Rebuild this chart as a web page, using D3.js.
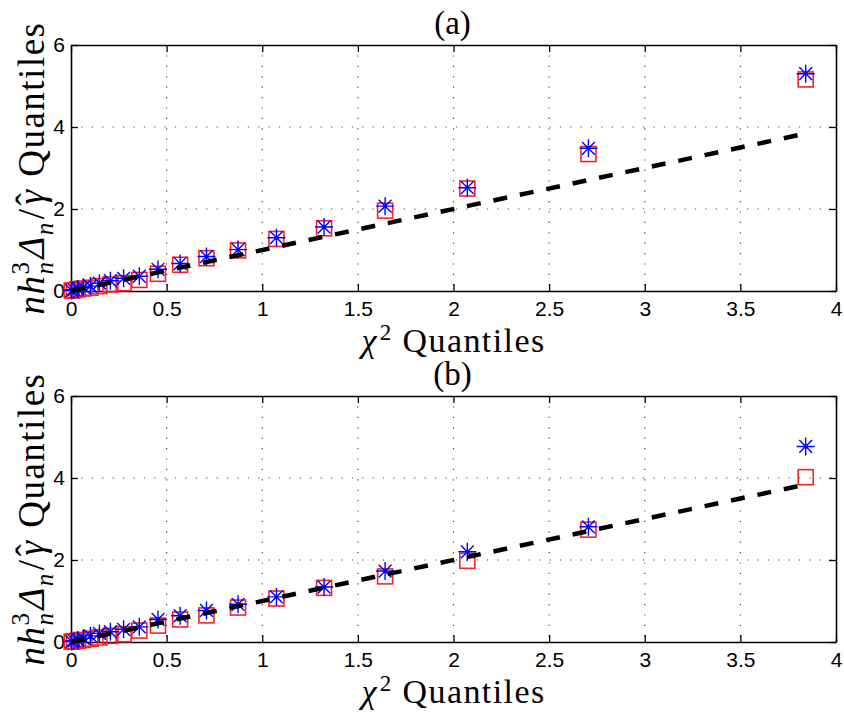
<!DOCTYPE html>
<html>
<head>
<meta charset="utf-8">
<script src="https://cdn.jsdelivr.net/npm/d3@7"></script>
<style>
  html, body { margin: 0; padding: 0; background: #fff; }
  svg { display: block; }
</style>
</head>
<body>
<div id="chart"></div>
<script>
// ---- data ----
const chi2Quantiles = [0.0039, 0.0158, 0.0358, 0.0642, 0.1015, 0.1485, 0.2059, 0.2750, 0.3573, 0.4549, 0.5707, 0.7083, 0.8735, 1.0742, 1.3233, 1.6424, 2.0723, 2.7055, 3.8415];
const squaresA = [0.01, 0.02, 0.04, 0.06, 0.08, 0.12, 0.16, 0.19, 0.27, 0.42, 0.64, 0.80, 0.99, 1.27, 1.53, 1.96, 2.50, 3.34, 5.16];
const starsA   = [0.01, 0.03, 0.05, 0.09, 0.12, 0.19, 0.25, 0.31, 0.36, 0.53, 0.67, 0.84, 1.01, 1.30, 1.56, 2.07, 2.52, 3.48, 5.30];
const squaresB = [0.01, 0.02, 0.03, 0.05, 0.08, 0.11, 0.15, 0.19, 0.28, 0.40, 0.55, 0.65, 0.84, 1.06, 1.32, 1.60, 1.98, 2.74, 4.02];
const starsB   = [0.01, 0.03, 0.05, 0.09, 0.15, 0.21, 0.25, 0.31, 0.37, 0.55, 0.64, 0.77, 0.92, 1.10, 1.34, 1.73, 2.20, 2.81, 4.77];
const refLineX = [0, 3.8415];
const refLineY = [0, 3.8415];
const xTicks = [0, 0.5, 1, 1.5, 2, 2.5, 3, 3.5, 4];
const yTicks = [0, 2, 4, 6];
const panelTitles = ["(a)", "(b)"];

// ---- layout ----
const W = 844, H = 715;
const left = 71, right = 836, plotH = 246;
const panelTops = [45, 396];

const svg = d3.select("#chart").append("svg").attr("width", W).attr("height", H);

const serif = "'Liberation Serif', 'Times New Roman', serif";
const sans = "'Liberation Sans', Arial, Helvetica, sans-serif";

const panels = [
  { top: panelTops[0], title: panelTitles[0], sq: squaresA, st: starsA },
  { top: panelTops[1], title: panelTitles[1], sq: squaresB, st: starsB }
];

function starPath(r, d) {
  return `M${-r},0L${r},0M0,${-r}L0,${r}M${-d},${-d}L${d},${d}M${-d},${d}L${d},${-d}`;
}

panels.forEach(p => {
  const bottom = p.top + plotH;
  const x = d3.scaleLinear().domain([0, 4]).range([left, right]);
  const y = d3.scaleLinear().domain([0, 6]).range([bottom, p.top]);
  const g = svg.append("g");

  // dotted grid
  g.append("g").selectAll("line").data(xTicks.slice(1, -1)).join("line")
    .attr("x1", d => x(d)).attr("x2", d => x(d))
    .attr("y1", p.top).attr("y2", bottom)
    .attr("stroke", "#444").attr("stroke-width", 1.2)
    .attr("stroke-dasharray", "1.2,9.2");
  g.append("g").selectAll("line").data(yTicks.slice(1, -1)).join("line")
    .attr("y1", d => y(d)).attr("y2", d => y(d))
    .attr("x1", left).attr("x2", right)
    .attr("stroke", "#444").attr("stroke-width", 1.2)
    .attr("stroke-dasharray", "1.2,9.2");

  // axes (box with inward ticks)
  const styleAxis = sel => {
    sel.select(".domain").attr("stroke", "#000").attr("stroke-width", 1.6);
    sel.selectAll(".tick line").attr("stroke", "#000").attr("stroke-width", 1.3);
    sel.selectAll("text").attr("font-family", sans).attr("font-size", 21).attr("fill", "#000");
  };
  g.append("g").attr("transform", `translate(0,${bottom})`)
    .call(d3.axisBottom(x).tickValues(xTicks).tickSize(-7).tickSizeOuter(0).tickPadding(10).tickFormat(d => String(d)))
    .call(styleAxis);
  g.append("g").attr("transform", `translate(0,${p.top})`)
    .call(d3.axisTop(x).tickValues(xTicks).tickSize(-7).tickSizeOuter(0).tickFormat(""))
    .call(styleAxis);
  g.append("g").attr("transform", `translate(${left},0)`)
    .call(d3.axisLeft(y).tickValues(yTicks).tickSize(-7).tickSizeOuter(0).tickPadding(6).tickFormat(d => String(d)))
    .call(styleAxis);
  g.append("g").attr("transform", `translate(${right},0)`)
    .call(d3.axisRight(y).tickValues(yTicks).tickSize(-7).tickSizeOuter(0).tickFormat(""))
    .call(styleAxis);

  // red squares
  const s = 15;
  g.append("g").selectAll("rect").data(chi2Quantiles.map((q, i) => [q, p.sq[i]])).join("rect")
    .attr("x", d => x(d[0]) - s / 2).attr("y", d => y(d[1]) - s / 2)
    .attr("width", s).attr("height", s)
    .attr("fill", "none").attr("stroke", "#ff2020").attr("stroke-width", 1.6);

  // blue stars
  g.append("g").selectAll("path").data(chi2Quantiles.map((q, i) => [q, p.st[i]])).join("path")
    .attr("transform", d => `translate(${x(d[0])},${y(d[1])})`)
    .attr("d", starPath(9, 6.4))
    .attr("fill", "none").attr("stroke", "#0000ff").attr("stroke-width", 1.4);

  // dashed reference line
  g.append("path").datum(refLineX.map((v, i) => [v, refLineY[i]]))
    .attr("d", d3.line().x(d => x(d[0])).y(d => y(d[1])))
    .attr("fill", "none").attr("stroke", "#000").attr("stroke-width", 4.5)
    .attr("stroke-dasharray", "14,13");

  // title
  g.append("text").attr("x", (left + right) / 2 - 1).attr("y", p.top - 11)
    .attr("text-anchor", "middle").attr("font-family", serif).attr("font-size", 33)
    .text(p.title);

  // x label
  const xl = g.append("text").attr("x", (left + right) / 2).attr("y", bottom + 61)
    .attr("text-anchor", "middle").attr("font-family", serif).attr("font-size", 34)
    .attr("letter-spacing", 1.4);
  xl.append("tspan").attr("font-style", "italic").text("χ");
  xl.append("tspan").attr("font-size", 23).attr("dy", -12).attr("dx", 2).text("2");
  xl.append("tspan").attr("dy", 12).text(" Quantiles");

  // y label
  const yl = g.append("text")
    .attr("transform", `translate(44,${(p.top + bottom) / 2}) rotate(-90)`)
    .attr("text-anchor", "middle").attr("font-family", serif).attr("font-size", 37)
    .attr("letter-spacing", 1.5);
  yl.append("tspan").attr("font-style", "italic").text("nh");
  yl.append("tspan").attr("font-size", 25).attr("dy", -15).text("3");
  yl.append("tspan").attr("font-size", 25).attr("font-style", "italic").attr("dx", -14).attr("dy", 24).text("n");
  yl.append("tspan").attr("font-style", "italic").attr("dx", 2).attr("dy", -9).text("Δ");
  yl.append("tspan").attr("font-size", 25).attr("font-style", "italic").attr("dy", 9).text("n");
  yl.append("tspan").attr("dy", -9).attr("dx", 2).text("/");
  yl.append("tspan").attr("font-style", "italic").attr("dx", 3).text("γ");
  yl.append("tspan").attr("dx", -17).attr("dy", -2).text("\u02C6");
  yl.append("tspan").attr("dx", 4).attr("dy", 2).text(" Quantiles");
});
</script>
</body>
</html>
